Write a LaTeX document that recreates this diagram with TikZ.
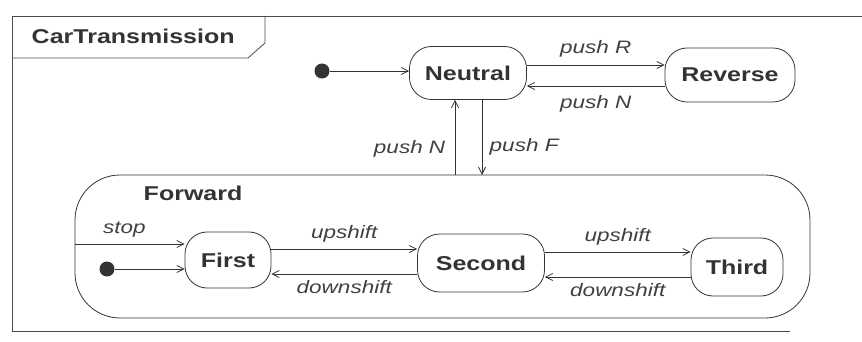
\documentclass[tikz,border=0pt]{standalone}
\usepackage{fontspec}
\setmainfont{Liberation Sans}[FakeStretch=1.25]
\usetikzlibrary{arrows.meta}
\begin{document}
\begin{tikzpicture}[x=1pt,y=-1pt,
  line width=0.8pt, draw=black!80,
  statebox/.style={draw=black!80, rounded corners=22pt, font=\fontsize{20}{22}\selectfont\bfseries, text=black!80, inner sep=0pt},
  lbl/.style={font=\fontsize{18}{20}\selectfont\itshape, text=black!75},
  tr/.style={draw=black!80, -{Straight Barb[length=7pt,width=7pt]}},
  initdot/.style={circle, fill=black!80, minimum size=15pt, inner sep=0pt}]
\useasboundingbox (0,0) rectangle (862,342);
% outer frame
\draw[black!70] (862,16) -- (12,16) -- (12,331) -- (790,331);
\draw[black!70] (12,58) -- (248,58) -- (265,43) -- (265,16);
\node[anchor=west, font=\fontsize{20}{22}\selectfont\bfseries, text=black!80] (title) at (28,36) {CarTransmission};
% top states
\node[statebox, minimum width=117pt, minimum height=53pt] (neutral) at (468,73) {Neutral};
\node[statebox, minimum width=130pt, minimum height=54pt] (reverse) at (730,75) {Reverse};
\node[initdot] (i1) at (322,71) {};
\draw[tr] (i1) -- (neutral.west |- i1);
\draw[tr] (neutral.east |- 0,65) -- (reverse.west |- 0,65) node[lbl, midway, above=4pt] (lpr) {push R};
\draw[tr] (reverse.west |- 0,86) -- (neutral.east |- 0,86) node[lbl, midway, below=6pt] (lpn) {push N};
% Forward composite
\node[draw=black!80, rounded corners=45pt, minimum width=735pt, minimum height=143pt, inner sep=0pt] (forward) at (442.5,246.5) {};
\node[anchor=west, font=\fontsize{20}{22}\selectfont\bfseries, text=black!80] (flabel) at (140,193) {Forward};
\coordinate (fup) at (455,175);
\coordinate (fdn) at (482,175);
\draw[tr] (fup) -- (fup |- neutral.south) node[lbl, pos=0.35, left=6pt] (lpn2) {push N};
\draw[tr] (fdn |- neutral.south) -- (fdn) node[lbl, pos=0.62, right=4pt] (lpf) {push F};
% inner states
\node[statebox, minimum width=86pt, minimum height=56pt] (first) at (228,260) {First};
\node[statebox, minimum width=127pt, minimum height=58pt] (second) at (481,263) {Second};
\node[statebox, minimum width=92pt, minimum height=58pt] (third) at (737,267) {Third};
\node[initdot] (i2) at (107,269) {};
\draw[tr] (i2) -- (first.west |- i2);
\coordinate (stopst) at (75,244);
\draw[tr] (stopst) -- (first.west |- stopst) node[lbl, pos=0.45, above=3pt] (lstop) {stop};
\draw[tr] (first.east |- 0,249) -- (second.west |- 0,249) node[lbl, midway, above=3pt] (lu1) {upshift};
\draw[tr] (second.west |- 0,274) -- (first.east |- 0,274) node[lbl, midway, below=3pt] (ld1) {downshift};
\draw[tr] (second.east |- 0,252) -- (third.west |- 0,252) node[lbl, midway, above=3pt] (lu2) {upshift};
\draw[tr] (third.west |- 0,277) -- (second.east |- 0,277) node[lbl, midway, below=3pt] (ld2) {downshift};
\end{tikzpicture}
\end{document}
